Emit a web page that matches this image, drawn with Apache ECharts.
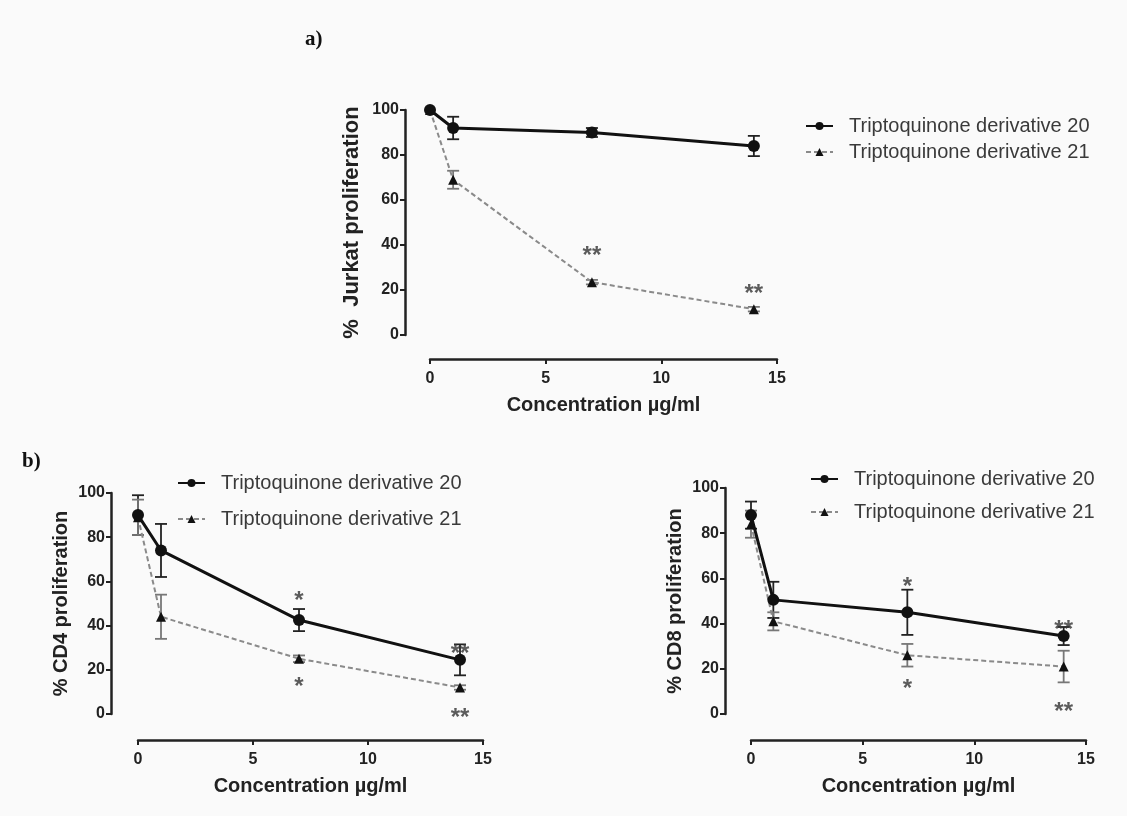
<!DOCTYPE html>
<html>
<head>
<meta charset="utf-8">
<script src="https://cdn.jsdelivr.net/npm/echarts@6/dist/echarts.min.js"></script>
<style>
  html, body { margin: 0; padding: 0; background: #fafafa; }
  #main { width: 1127px; height: 816px; }
</style>
</head>
<body>
<div id="main"></div>
<script>
// concentration (µg/ml)
var conc = [0, 1, 7, 14];

// a) Jurkat
var jurkat20 = [100, 92, 90, 84];
var jurkat20Err = [0, 5, 2, 4.5];
var jurkat21 = [100, 69, 23.5, 11.5];
var jurkat21Err = [0, 4, 1, 1];
var jurkatStars = [[7, 38, "**"], [14, 21, "**"]];

// b) CD4
var cd4_20 = [90, 74, 42.5, 24.5];
var cd4_20Err = [9, 12, 5, 7];
var cd4_21 = [89, 44, 25, 12];
var cd4_21Err = [8, 10, 1.5, 1];
var cd4Stars = [[7, 54, "*"], [7, 15, "*"], [14, 30, "**"], [14, 1, "**"]];

// b) CD8
var cd8_20 = [88, 50.5, 45, 34.5];
var cd8_20Err = [6, 8, 10, 4];
var cd8_21 = [84, 41, 26, 21];
var cd8_21Err = [6, 4, 5, 7];
var cd8Stars = [[7, 59, "*"], [7, 14, "*"], [14, 40, "**"], [14, 4, "**"]];

var name20 = "Triptoquinone derivative 20";
var name21 = "Triptoquinone derivative 21";
var font = "Liberation Sans, Arial, sans-serif";

function pts(vals) {
  var out = [];
  for (var i = 0; i < conc.length; i++) out.push([conc[i], vals[i]]);
  return out;
}
function errPts(vals, errs) {
  var out = [];
  for (var i = 0; i < conc.length; i++) {
    if (errs[i] > 0) out.push([conc[i], vals[i] - errs[i], vals[i] + errs[i]]);
  }
  return out;
}

function makeX(idx, off) {
  return {
    gridIndex: idx, type: "value", min: 0, max: 15, interval: 5,
    offset: off,
    name: "Concentration µg/ml", nameLocation: "middle", nameGap: 36,
    nameTextStyle: { fontFamily: font, fontWeight: "bold", fontSize: 20, color: "#222" },
    axisLine: { onZero: false, lineStyle: { color: "#222", width: 2.5 } },
    axisTick: { length: 5, lineStyle: { color: "#222", width: 2 } },
    axisLabel: { fontFamily: font, fontWeight: "bold", fontSize: 16, color: "#222", margin: 12 },
    splitLine: { show: false }
  };
}
function makeY(idx, off, nameText, fs, gap) {
  return {
    gridIndex: idx, type: "value", min: 0, max: 100, interval: 20,
    offset: off,
    name: nameText, nameLocation: "middle", nameGap: gap, nameRotate: 90,
    nameTextStyle: { fontFamily: font, fontWeight: "bold", fontSize: fs, color: "#222" },
    axisLine: { show: true, onZero: false, lineStyle: { color: "#222", width: 2.5 } },
    axisTick: { show: true, length: 5, lineStyle: { color: "#222", width: 2 } },
    axisLabel: { fontFamily: font, fontWeight: "bold", fontSize: 16, color: "#222", margin: 6 },
    splitLine: { show: false }
  };
}

function lineSeries(idx, nm, vals, solid) {
  return {
    name: nm, type: "line", xAxisIndex: idx, yAxisIndex: idx,
    data: pts(vals), clip: false, z: solid ? 4 : 3,
    symbol: solid ? "circle" : "triangle",
    symbolSize: solid ? 12 : 10,
    itemStyle: { color: "#111" },
    lineStyle: solid ? { color: "#111", width: 3 } : { color: "#8a8a8a", width: 2, type: [5, 3] },
    animation: false
  };
}

function errSeries(idx, vals, errs, color) {
  return {
    type: "custom", xAxisIndex: idx, yAxisIndex: idx, clip: false,
    data: errPts(vals, errs), z: 2, silent: true,
    renderItem: function (params, api) {
      var lo = api.coord([api.value(0), api.value(1)]);
      var hi = api.coord([api.value(0), api.value(2)]);
      var w = 6;
      var st = { stroke: color, lineWidth: 1.8, fill: null };
      return {
        type: "group",
        children: [
          { type: "line", shape: { x1: lo[0], y1: lo[1], x2: hi[0], y2: hi[1] }, style: st },
          { type: "line", shape: { x1: lo[0] - w, y1: lo[1], x2: lo[0] + w, y2: lo[1] }, style: st },
          { type: "line", shape: { x1: hi[0] - w, y1: hi[1], x2: hi[0] + w, y2: hi[1] }, style: st }
        ]
      };
    },
    animation: false
  };
}

function starSeries(idx, stars) {
  return {
    type: "scatter", xAxisIndex: idx, yAxisIndex: idx, clip: false,
    symbolSize: 1, itemStyle: { color: "rgba(0,0,0,0)" }, silent: true, z: 5,
    data: stars.map(function (s) { return { value: [s[0], s[1]], label: { formatter: s[2] } }; }),
    label: { show: true, position: "inside", offset: [0, 7], fontFamily: font, fontWeight: "bold", fontSize: 24, color: "#333" },
    animation: false
  };
}

function legendAt(left, top, gap) {
  return {
    data: [name20, name21], orient: "vertical", left: left, top: top,
    itemWidth: 27, itemHeight: 10, itemGap: gap,
    selectedMode: false,
    textStyle: { fontFamily: font, fontSize: 20, color: "#3a3a3a", padding: [0, 0, 0, 11] }
  };
}

var myChart = echarts.init(document.getElementById("main"));
var option = {
  backgroundColor: "#fafafa",
  animation: false,
  graphic: [
    { type: "text", left: 305, top: 29, style: { text: "a)", font: "bold 21px 'Liberation Serif', 'Times New Roman', serif", fill: "#111" } },
    { type: "text", left: 22, top: 451, style: { text: "b)", font: "bold 21px 'Liberation Serif', 'Times New Roman', serif", fill: "#111" } }
  ],
  legend: [legendAt(800, 111, 6), legendAt(172, 468, 16), legendAt(805, 464, 13)],
  grid: [
    { left: 430, right: 350, top: 110, bottom: 481 },
    { left: 138, right: 644, top: 493, bottom: 102 },
    { left: 751, right: 41, top: 488, bottom: 102 }
  ],
  xAxis: [makeX(0, 24), makeX(1, 26), makeX(2, 26)],
  yAxis: [
    makeY(0, 25, "%  Jurkat proliferation", 22, 42),
    makeY(1, 27, "% CD4 proliferation", 20, 40),
    makeY(2, 26, "% CD8 proliferation", 20, 40)
  ],
  series: [
    errSeries(0, jurkat20, jurkat20Err, "#222"),
    errSeries(0, jurkat21, jurkat21Err, "#777"),
    lineSeries(0, name21, jurkat21, false),
    lineSeries(0, name20, jurkat20, true),
    starSeries(0, jurkatStars),

    errSeries(1, cd4_20, cd4_20Err, "#222"),
    errSeries(1, cd4_21, cd4_21Err, "#777"),
    lineSeries(1, name21, cd4_21, false),
    lineSeries(1, name20, cd4_20, true),
    starSeries(1, cd4Stars),

    errSeries(2, cd8_20, cd8_20Err, "#222"),
    errSeries(2, cd8_21, cd8_21Err, "#777"),
    lineSeries(2, name21, cd8_21, false),
    lineSeries(2, name20, cd8_20, true),
    starSeries(2, cd8Stars)
  ]
};
myChart.setOption(option);
</script>
</body>
</html>
